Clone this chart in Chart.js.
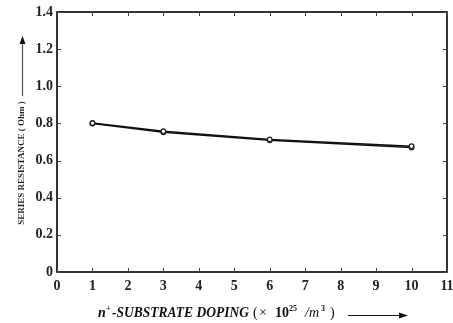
<!DOCTYPE html>
<html><head><meta charset="utf-8">
<script src="https://cdn.jsdelivr.net/npm/chart.js@4/dist/chart.umd.min.js"></script>
<style>html,body{margin:0;padding:0;background:#fff}#wrap{width:453px;height:323px}</style>
</head><body><div id="wrap"><canvas id="c" width="453" height="323"></canvas></div>
<script>
const doping = [1, 3, 6, 10];
const seriesA = [0.802, 0.758, 0.714, 0.677];
const seriesB = [0.800, 0.752, 0.709, 0.670];
const xTicks = [0,1,2,3,4,5,6,7,8,9,10,11];
const yTicks = [0,0.2,0.4,0.6,0.8,1.0,1.2,1.4];

const serif = "'Liberation Serif','DejaVu Serif',serif";

const decor = {
  id:'decor',
  afterDraw(chart){
    const ctx = chart.ctx, a = chart.chartArea, xs = chart.scales.x, ys = chart.scales.y;
    ctx.save();
    ctx.strokeStyle = '#000'; ctx.lineWidth = 1.6;
    ctx.strokeRect(a.left, a.top, a.right-a.left, a.bottom-a.top);
    ctx.lineWidth = 1; ctx.strokeStyle = '#444';
    xTicks.forEach(v=>{ const p = Math.round(xs.getPixelForValue(v))+0.5;
      ctx.beginPath(); ctx.moveTo(p,a.bottom); ctx.lineTo(p,a.bottom-4);
      ctx.moveTo(p,a.top); ctx.lineTo(p,a.top+4); ctx.stroke(); });
    yTicks.forEach(v=>{ const p = Math.round(ys.getPixelForValue(v))+0.5;
      ctx.beginPath(); ctx.moveTo(a.left,p); ctx.lineTo(a.left+4,p);
      ctx.moveTo(a.right,p); ctx.lineTo(a.right-4,p); ctx.stroke(); });
    // Y title
    ctx.save();
    ctx.translate(22, 163); ctx.rotate(-Math.PI/2);
    ctx.fillStyle = '#222'; ctx.font = 'bold 9px '+serif;
    ctx.textAlign='center'; ctx.textBaseline='middle';
    ctx.fillText('SERIES RESISTANCE ( Ohm )', 0, 0);
    ctx.restore();
    ctx.strokeStyle = '#555'; ctx.lineWidth = 1.2;
    ctx.beginPath(); ctx.moveTo(22.5, 96); ctx.lineTo(22.5, 42); ctx.stroke();
    ctx.fillStyle = '#111';
    ctx.beginPath(); ctx.moveTo(22.5, 36); ctx.lineTo(19.5, 44); ctx.lineTo(25.5, 44); ctx.closePath(); ctx.fill();
    // X title pieces: [font, text, x, baseline shift, target width]
    const yb = 317;
    const parts = [
      ['bold italic 14px','n',98,0,0], ['bold 8px','+',106,-6,0],
      ['bold italic 14px','-SUBSTRATE DOPING',112,0,137],
      ['14px','(',253,0,0], ['14px','\u00d7',259,0,0], ['bold 14px','10',275,0,0],
      ['bold 8px','25',289,-6,0], ['italic 14px','/m',305,0,0], ['bold 8px','3',321,-6,0], ['14px',')',330,0,0]
    ];
    ctx.fillStyle = '#111'; ctx.textBaseline='alphabetic'; ctx.textAlign='left';
    parts.forEach(([f,t,x,dy,w])=>{ ctx.font = f+' '+serif;
      if (w) { const m = ctx.measureText(t).width; ctx.save(); ctx.translate(x, yb+dy); ctx.scale(w/m,1); ctx.fillText(t,0,0); ctx.restore(); }
      else ctx.fillText(t, x, yb+dy); });
    ctx.strokeStyle = '#111'; ctx.lineWidth = 1;
    ctx.beginPath(); ctx.moveTo(348, 315.5); ctx.lineTo(400, 315.5); ctx.stroke();
    ctx.beginPath(); ctx.moveTo(408, 315.5); ctx.lineTo(399, 312.5); ctx.lineTo(399, 318.5); ctx.closePath(); ctx.fill();
    ctx.restore();
  }
};

new Chart(document.getElementById('c'), {
  type:'line',
  data:{ datasets:[
    {data: doping.map((d,i)=>({x:d,y:seriesA[i]})), borderColor:'#111', borderWidth:1.5, pointRadius:2.3, pointBackgroundColor:'#fff', pointBorderColor:'#222', pointBorderWidth:1.3, tension:0},
    {data: doping.map((d,i)=>({x:d,y:seriesB[i]})), borderColor:'#111', borderWidth:1.5, pointRadius:2.3, pointBackgroundColor:'#fff', pointBorderColor:'#222', pointBorderWidth:1.3, tension:0}
  ]},
  options:{
    responsive:false, animation:false, devicePixelRatio:1,
    layout:{padding:{left:0,top:12,right:6,bottom:0}},
    plugins:{legend:{display:false}, tooltip:{enabled:false}},
    scales:{
      x:{type:'linear', min:0, max:11,
        afterBuildTicks(s){ s.ticks = xTicks.map(v=>({value:v})); },
        afterFit(s){ s.height = 51; s.paddingLeft = 0; s.paddingRight = 0; },
        grid:{display:false, drawTicks:false}, border:{display:false},
        ticks:{padding:6, color:'#222', font:{family:serif, size:14, weight:'bold'}, maxRotation:0, autoSkip:false, callback:v=>String(v)}},
      y:{type:'linear', min:0, max:1.4,
        afterBuildTicks(s){ s.ticks = yTicks.map(v=>({value:v})); },
        afterFit(s){ s.width = 57; s.paddingTop = 0; s.paddingBottom = 0; },
        grid:{display:false, drawTicks:false}, border:{display:false},
        ticks:{padding:4, color:'#222', font:{family:serif, size:14, weight:'bold'}, autoSkip:false, callback:v=> v===0?'0':Number(v).toFixed(1)}}
    }
  },
  plugins:[decor]
});
</script></body></html>
